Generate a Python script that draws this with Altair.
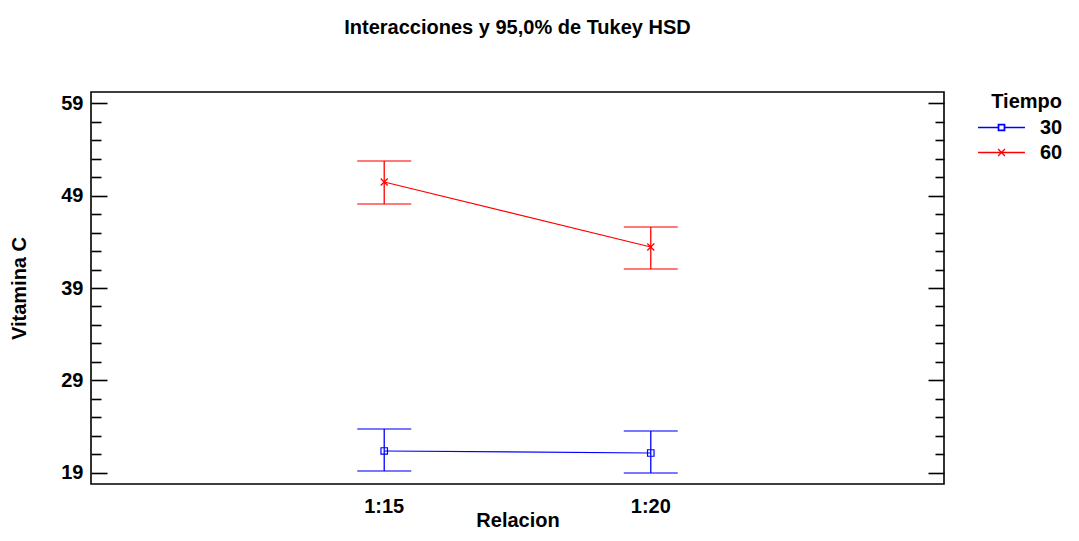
import altair as alt
import pandas as pd

# ---- data ----
relacion = ["1:15", "1:20", "1:15", "1:20"]
tiempo = ["30", "30", "60", "60"]
media = [21.38, 21.16, 50.46, 43.43]
inferior = [19.22, 19.00, 48.08, 41.05]
superior = [23.76, 23.54, 52.73, 45.60]

x_categories = ["1:15", "1:20"]
tiempo_levels = ["30", "60"]
y_major = [19, 29, 39, 49, 59]
y_minor = [21, 23, 25, 27, 31, 33, 35, 37, 41, 43, 45, 47, 51, 53, 55, 57]

df = pd.DataFrame({
    "relacion": relacion,
    "tiempo": tiempo,
    "media": media,
    "inferior": inferior,
    "superior": superior,
})

FONT = "Liberation Sans"
FS = 20

yscale = alt.Scale(domain=[17.81, 60.19], nice=False, zero=False)
xscale = alt.Scale(type="band", domain=x_categories, paddingInner=0.8, paddingOuter=1)
color_scale = alt.Scale(domain=tiempo_levels, range=["#0000FF", "#FF0000"])

x_axis = alt.Axis(
    title="Relacion", labelAngle=0, ticks=False, domain=False, grid=False,
    labelFont=FONT, labelFontSize=FS, labelFontWeight="bold", labelColor="black",
    labelPadding=12, titleFont=FONT, titleFontSize=FS, titleFontWeight="bold",
    titleColor="black", titlePadding=-6,
)


def yaxis(orient, values, size, labels, title=""):
    return alt.Axis(
        orient=orient, values=values, offset=-size, tickSize=size, tickWidth=1.6,
        tickColor="black", labels=labels, domain=False, grid=False, title=title,
        labelFont=FONT, labelFontSize=FS, labelFontWeight="bold", labelColor="black",
        labelPadding=8, titleFont=FONT, titleFontSize=FS, titleFontWeight="bold",
        titleColor="black", titlePadding=31,
    )


X = alt.X("relacion:N", scale=xscale, axis=x_axis)
C = alt.Color("tiempo:N", scale=color_scale, legend=None)

base = alt.Chart(df)

line = base.mark_line(strokeWidth=1.2).encode(
    x=X,
    y=alt.Y("media:Q", scale=yscale, axis=yaxis("left", y_major, 16, True, "Vitamina C")),
    color=C,
)

rules = base.mark_rule(strokeWidth=1.3).encode(
    x=X,
    y=alt.Y("inferior:Q", scale=yscale, axis=yaxis("left", y_minor, 10, False)),
    y2="superior:Q",
    color=C,
)

caps = base.transform_fold(["inferior", "superior"], as_=["lim", "valor"]).mark_tick(
    orient="horizontal", size=54, thickness=1.5
).encode(
    x=X,
    y=alt.Y("valor:Q", scale=yscale, axis=yaxis("right", y_major, 16, False)),
    color=C,
)

pts30 = base.transform_filter(alt.datum.tiempo == "30").mark_point(
    shape="square", size=42, filled=False, strokeWidth=1.2, opacity=1
).encode(
    x=X,
    y=alt.Y("media:Q", scale=yscale, axis=yaxis("right", y_minor, 9, False)),
    color=C,
)

pts60 = base.transform_filter(alt.datum.tiempo == "60").mark_point(
    shape="M-1,-1L1,1M1,-1L-1,1", size=49, filled=False, strokeWidth=1.3, opacity=1
).encode(
    x=X,
    y=alt.Y("media:Q", scale=yscale, axis=None),
    color=C,
)

# legend glyphs: line with a hollow square (a thin ring) / line with an "x"
path30 = (
    "M-2.04,0L-0.28,0M0.28,0L2.04,0"
    "M-0.28,-0.28L0.28,-0.28L0.28,0.28L-0.28,0.28Z"
    "M-0.24,-0.24L-0.24,0.24L0.24,0.24L0.24,-0.24Z"
)
path60 = "M-2.04,0L2.04,0M-0.3,-0.3L0.3,0.3M-0.3,0.3L0.3,-0.3"

leg = alt.Legend(
    title="Tiempo", orient="right", offset=44, padding=0,
    symbolSize=529, symbolStrokeWidth=1.3, symbolOpacity=1,
    labelFont=FONT, labelFontSize=FS, labelFontWeight="bold", labelColor="black",
    labelOffset=26, rowPadding=2,
    titleFont=FONT, titleFontSize=FS, titleFontWeight="bold", titleColor="black",
    titleAnchor="end", titlePadding=3,
)

# legend carrier: draws nothing (its filter keeps no row), only builds the legend.
# It is the first layer so that its legend settings win when layers are merged.
legend_layer = base.transform_filter(alt.datum.tiempo == "ninguno").mark_point(filled=False).encode(
    x=X,
    y=alt.Y("media:Q", scale=yscale, axis=None),
    color=alt.Color("tiempo:N", scale=color_scale, legend=leg),
    shape=alt.Shape("tiempo:N", scale=alt.Scale(domain=tiempo_levels, range=[path30, path60]), legend=leg),
)

chart = alt.layer(legend_layer, line, rules, caps, pts30, pts60).resolve_axis(
    y="independent"
).properties(
    width=853,
    height=392,
    autosize=alt.AutoSizeParams(type="none"),
    padding={"left": 83, "top": 84, "right": 127, "bottom": 49},
    background="white",
    title=alt.Title(
        "Interacciones y 95,0% de Tukey HSD", font=FONT, fontSize=FS,
        fontWeight="bold", anchor="middle", frame="group", offset=54, color="black",
    ),
).configure_view(
    stroke="black", strokeWidth=1.6
)

chart.save("out.html", embed_options={"renderer": "svg", "actions": False})
